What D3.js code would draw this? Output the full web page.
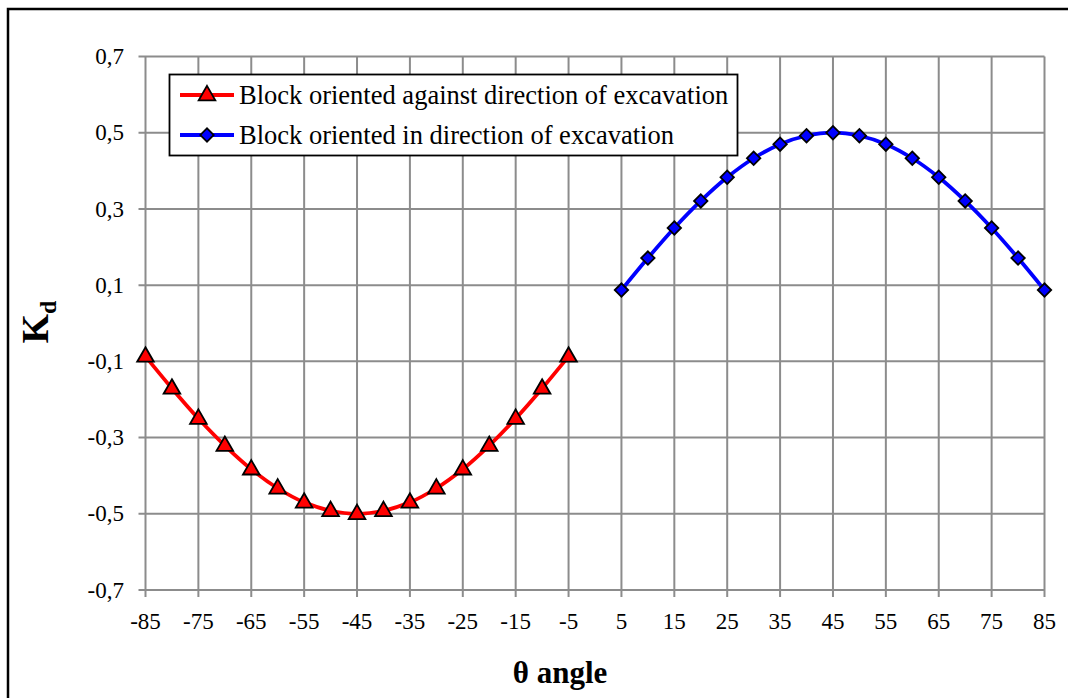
<!DOCTYPE html>
<html>
<head>
<meta charset="utf-8">
<script src="https://cdn.jsdelivr.net/npm/d3@7"></script>
<style>
  html, body { margin: 0; padding: 0; background: #fff; }
  text { font-family: "Liberation Serif", "Times New Roman", Times, "DejaVu Serif", serif; }
</style>
</head>
<body>
<svg id="chart" width="1068" height="698"></svg>
<script>
// Angle values (degrees) for each series
const anglesAgainst = [-85, -80, -75, -70, -65, -60, -55, -50, -45, -40, -35, -30, -25, -20, -15, -10, -5];
const anglesIn = [5, 10, 15, 20, 25, 30, 35, 40, 45, 50, 55, 60, 65, 70, 75, 80, 85];

// Kd values
const kdAgainst = [-0.087, -0.171, -0.25, -0.321, -0.383, -0.433, -0.470, -0.492, -0.5, -0.492, -0.470, -0.433, -0.383, -0.321, -0.25, -0.171, -0.087];
const kdIn = [0.087, 0.171, 0.25, 0.321, 0.383, 0.433, 0.470, 0.492, 0.5, 0.492, 0.470, 0.433, 0.383, 0.321, 0.25, 0.171, 0.087];

// Axis tick labels
const xTicks = [-85, -75, -65, -55, -45, -35, -25, -15, -5, 5, 15, 25, 35, 45, 55, 65, 75, 85];
const yTicks = [-0.7, -0.5, -0.3, -0.1, 0.1, 0.3, 0.5, 0.7];

const seriesNames = ["Block oriented against direction of excavation", "Block oriented in direction of excavation"];

const FONT = "'Liberation Serif', 'Times New Roman', Times, 'DejaVu Serif', serif";
const svg = d3.select("#chart");
const plot = { left: 145.5, right: 1044.5, top: 56.5, bottom: 590 };

const x = d3.scaleLinear().domain([-85, 85]).range([plot.left, plot.right]);
const y = d3.scaleLinear().domain([-0.7, 0.7]).range([plot.bottom, plot.top]);

const gridColor = "#8c8c8c";

// outer frame (open on the right and bottom edges of the window)
svg.append("rect")
  .attr("x", 8).attr("y", 9)
  .attr("width", 1100).attr("height", 720)
  .attr("fill", "none").attr("stroke", "#000").attr("stroke-width", 2.5);

// gridlines
const grid = svg.append("g");
grid.selectAll("line.v").data(xTicks).join("line")
  .attr("x1", d => x(d)).attr("x2", d => x(d))
  .attr("y1", plot.top).attr("y2", plot.bottom + 7)
  .attr("stroke", gridColor).attr("stroke-width", 2);
grid.selectAll("line.h").data(yTicks).join("line")
  .attr("x1", plot.left - 7).attr("x2", plot.right)
  .attr("y1", d => y(d)).attr("y2", d => y(d))
  .attr("stroke", gridColor).attr("stroke-width", 2);

// axes tick labels
const fmt = v => d3.format(".1f")(v).replace(".", ",").replace("−", "-");
svg.append("g").selectAll("text").data(yTicks).join("text")
  .attr("x", 124).attr("y", d => y(d))
  .attr("dy", "0.33em")
  .attr("text-anchor", "end")
  .attr("font-family", FONT)
  .attr("font-size", 23)
  .text(d => fmt(d));

svg.append("g").selectAll("text").data(xTicks).join("text")
  .attr("x", d => x(d)).attr("y", 629)
  .attr("text-anchor", "middle")
  .attr("font-family", FONT)
  .attr("font-size", 23)
  .text(d => String(d));

// axis titles
svg.append("text")
  .attr("x", 560).attr("y", 683)
  .attr("text-anchor", "middle")
  .attr("font-family", FONT)
  .attr("font-size", 31).attr("font-weight", "bold")
  .text("θ angle");

const yTitle = svg.append("text")
  .attr("transform", "translate(48,322) rotate(-90)")
  .attr("text-anchor", "middle")
  .attr("font-family", FONT)
  .attr("font-weight", "bold");
yTitle.append("tspan").attr("font-size", 38).text("K");
yTitle.append("tspan").attr("font-size", 24).attr("dy", 8).text("d");

// series
const line = d3.line().x(d => x(d[0])).y(d => y(d[1])).curve(d3.curveCatmullRom.alpha(0.5));
const dataAgainst = anglesAgainst.map((a, i) => [a, kdAgainst[i]]);
const dataIn = anglesIn.map((a, i) => [a, kdIn[i]]);

svg.append("path").datum(dataAgainst).attr("d", line)
  .attr("fill", "none").attr("stroke", "#ff0000").attr("stroke-width", 3.8);
svg.append("path").datum(dataIn).attr("d", line)
  .attr("fill", "none").attr("stroke", "#0000ff").attr("stroke-width", 3.8);

const tri = d3.symbol().type(d3.symbolTriangle).size(120);
const dia = d3.symbol().type(d3.symbolSquare).size(90);

svg.append("g").selectAll("path").data(dataAgainst).join("path")
  .attr("d", tri)
  .attr("transform", d => `translate(${x(d[0])},${y(d[1]) + 0.5})`)
  .attr("fill", "#ff0000").attr("stroke", "#000").attr("stroke-width", 1.8);
svg.append("g").selectAll("path").data(dataIn).join("path")
  .attr("d", dia)
  .attr("transform", d => `translate(${x(d[0])},${y(d[1])}) rotate(45)`)
  .attr("fill", "#0000ff").attr("stroke", "#000").attr("stroke-width", 1.8);

// legend
const legend = svg.append("g");
legend.append("rect")
  .attr("x", 169.5).attr("y", 74.5).attr("width", 568).attr("height", 81)
  .attr("fill", "#fff").attr("stroke", "#000").attr("stroke-width", 1.8);
const legendRows = [
  { name: seriesNames[0], color: "#ff0000", symbol: tri, rot: 0, cy: 95 },
  { name: seriesNames[1], color: "#0000ff", symbol: dia, rot: 45, cy: 135 }
];
legendRows.forEach(r => {
  legend.append("line")
    .attr("x1", 180).attr("x2", 234).attr("y1", r.cy).attr("y2", r.cy)
    .attr("stroke", r.color).attr("stroke-width", 3.8);
  legend.append("path").attr("d", r.symbol)
    .attr("transform", `translate(207,${r.cy + (r.rot ? 0 : 0.5)}) rotate(${r.rot})`)
    .attr("fill", r.color).attr("stroke", "#000").attr("stroke-width", 1.8);
  legend.append("text")
    .attr("x", 239).attr("y", r.cy).attr("dy", "0.33em")
    .attr("font-family", FONT)
    .attr("font-size", 26.5)
    .text(r.name);
});
</script>
</body>
</html>
